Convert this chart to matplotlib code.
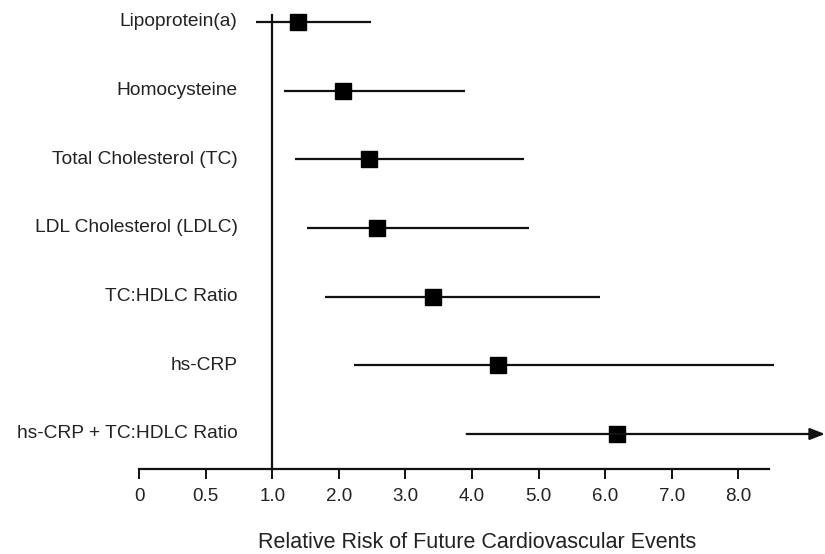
import numpy as np
import matplotlib.pyplot as plt

# Relative risk estimates with 95% confidence intervals for each marker
markers = ["Lipoprotein(a)", "Homocysteine", "Total Cholesterol (TC)",
           "LDL Cholesterol (LDLC)", "TC:HDLC Ratio", "hs-CRP",
           "hs-CRP + TC:HDLC Ratio"]
rr = [1.38, 2.07, 2.45, 2.57, 3.42, 4.39, 6.17]
ci_low = [0.88, 1.17, 1.34, 1.52, 1.79, 2.23, 3.92]
ci_high = [2.48, 3.90, 4.78, 4.85, 5.92, 8.53, 9.30]
open_ended = [False, False, False, False, False, False, True]

tick_values = [0, 0.5, 1.0, 2.0, 3.0, 4.0, 5.0, 6.0, 7.0, 8.0]
tick_labels = ["0", "0.5", "1.0", "2.0", "3.0", "4.0", "5.0", "6.0", "7.0", "8.0"]


def stretch(x):
    # values below 1 get twice the room of values above 1
    x = np.asarray(x, dtype=float)
    return np.where(x <= 1, 2 * x, x + 1)


def unstretch(f):
    f = np.asarray(f, dtype=float)
    return np.where(f <= 2, f / 2, f - 1)


plt.rcParams['font.family'] = ['Liberation Sans', 'DejaVu Sans']

fig = plt.figure(figsize=(8.25, 5.54), dpi=100)
ax = fig.add_axes([0.1685, 0.1534, 0.8315, 0.8441])
ax.set_xscale('function', functions=(stretch, unstretch))
ax.set_xlim(0, 9.3)
ax.set_ylim(6.51, -0.3)

ink = "#111111"
rows = np.arange(len(markers))

for i in rows:
    if open_ended[i]:
        # upper limit runs off the scale, so finish it with an arrow
        ax.annotate("", xy=(ci_high[i], i), xytext=(ci_low[i], i),
                    annotation_clip=False,
                    arrowprops=dict(arrowstyle="-|>,head_length=0.9,head_width=0.35",
                                    color=ink, lw=1.6, shrinkA=0, shrinkB=0))
    else:
        ax.plot([ci_low[i], ci_high[i]], [i, i], color=ink, lw=1.6,
                solid_capstyle='butt')
    ax.plot(rr[i], i, marker='s', ms=11.5, color='black', mec='black')
    ax.text(0.74, i, markers[i], ha='right', va='center', fontsize=13.8,
            color="#222222")

# reference line at a relative risk of 1.0
ax.plot([1.0, 1.0], [6.51, -0.1], color=ink, lw=1.6, clip_on=False)

for side in ['top', 'right', 'left']:
    ax.spines[side].set_visible(False)
ax.spines['bottom'].set_linewidth(1.6)
ax.spines['bottom'].set_color(ink)
ax.spines['bottom'].set_bounds(0, 8.46)

ax.set_yticks([])
ax.set_xticks(tick_values)
ax.set_xticklabels(tick_labels)
ax.xaxis.set_minor_locator(plt.NullLocator())
ax.tick_params(axis='x', direction='out', length=7.5, width=1.4, color=ink,
               pad=6.5, labelsize=13.5, labelcolor="#222222")

ax.set_xlabel("Relative Risk of Future Cardiovascular Events", fontsize=15.5,
              color="#222222")
ax.xaxis.set_label_coords(0.493, -0.135)

fig.savefig("out.png", dpi=100)
